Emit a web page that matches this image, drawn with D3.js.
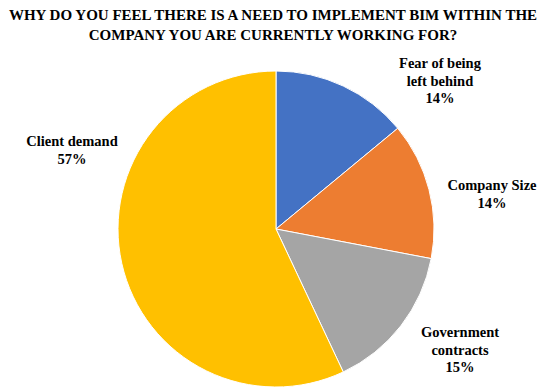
<!DOCTYPE html>
<html><head><meta charset="utf-8">
<script src="https://d3js.org/d3.v7.min.js"></script>
<style>body{margin:0;background:#fff}</style>
</head><body><svg id="c" width="545" height="389"></svg>
<script>
const categories = ["Fear of being left behind", "Company Size", "Government contracts", "Client demand"];
const values = [14, 14, 15, 57];
const colors = ["#4472C4", "#ED7D31", "#A5A5A5", "#FFC000"];
const labelLines = [["Fear of being", "left behind", "14%"], ["Company Size", "14%"], ["Government", "contracts", "15%"], ["Client demand", "57%"]];
const labelPos = [[440, 68], [492, 190], [460, 337], [72, 146]];
const titleLines = ["WHY DO YOU FEEL THERE IS A NEED TO IMPLEMENT BIM WITHIN THE", "COMPANY YOU ARE CURRENTLY WORKING FOR?"];

const svg = d3.select("#c");
svg.selectAll("text.title").data(titleLines).enter().append("text")
  .attr("x", 273).attr("y", (d, i) => 20 + i * 20)
  .attr("text-anchor", "middle")
  .style("font-family", "serif").style("font-weight", "bold")
  .attr("font-size", 15).attr("fill", "#000").text(d => d);

const cx = 276, cy = 229, r = 158;
const pie = d3.pie().sort(null).value(d => d);
const arc = d3.arc().innerRadius(0).outerRadius(r);
const g = svg.append("g").attr("transform", `translate(${cx},${cy})`);
g.selectAll("path").data(pie(values)).enter().append("path")
  .attr("d", arc).attr("fill", (d, i) => colors[i])
  .attr("stroke", "#fff").attr("stroke-width", 1);

labelLines.forEach((lines, i) => {
  const t = svg.append("text").attr("text-anchor", "middle")
    .style("font-family", "Times New Roman").style("font-weight", "bold")
    .attr("font-size", 14.5).attr("fill", "#000");
  lines.forEach((l, j) => t.append("tspan").attr("x", labelPos[i][0]).attr("y", labelPos[i][1] + j * 17.5).text(l));
});
</script></body></html>
